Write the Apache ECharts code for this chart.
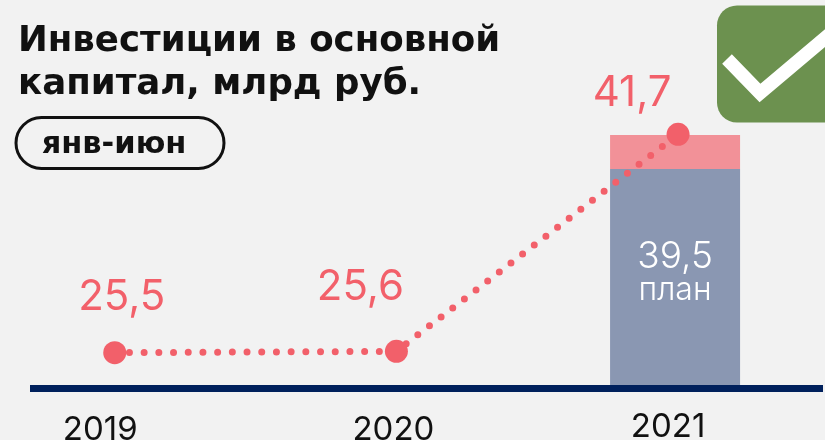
<!DOCTYPE html>
<html>
<head>
<meta charset="utf-8">
<style>
  html, body { margin: 0; padding: 0; background: #f2f2f2; }
  #chart { width: 825px; height: 440px; }
</style>
<script src="https://cdn.jsdelivr.net/npm/echarts@6/dist/echarts.min.js"></script>
</head>
<body>
<div id="chart"></div>
<script>
const years = ['2019', '2020', '2021']
const actual = [25.5, 25.6, 41.7]
const plan = [null, null, 39.5]
const overPlan = [null, null, 2.2]

const titleText = 'Инвестиции в основной\nкапитал, млрд руб.'
const periodText = 'янв-июн'
const planText = 'план'

const fontName = 'Inter'
const boldFontName = 'DejaVu Sans'
const red = '#f2606a'

// подписи расставлены в оригинале вручную
const valueLabelOffset = [[7, -1], [-36, -9], [-46, 14]]
const yearLabelPadding = [[3, 29, 0, 0], [3, 6, 0, 0], [0, 20, 0, 0]]

const chart = echarts.init(document.getElementById('chart'))

const comma = (v) => String(v).replace('.', ',')

chart.setOption({
  backgroundColor: '#f2f2f2',
  animation: false,
  title: {
    text: titleText,
    left: 13,
    top: 15,
    textStyle: { fontFamily: boldFontName, fontWeight: 700, fontSize: 35.6, lineHeight: 43, color: '#111' },
  },
  grid: [
    { left: -29.1, width: 845, top: 135, bottom: 52, outerBoundsMode: 'none' },
    { left: -26.1, width: 845, top: 134.3, bottom: 52, outerBoundsMode: 'none' },
  ],
  xAxis: [
    { type: 'category', gridIndex: 0, data: years, axisLine: { show: false }, axisTick: { show: false }, axisLabel: { show: false } },
    {
      type: 'category',
      gridIndex: 1,
      data: years.map((y, i) => ({ value: y, textStyle: { padding: yearLabelPadding[i] } })),
      axisLine: { show: false },
      axisTick: { show: false },
      axisLabel: { fontFamily: fontName, fontSize: 33, color: '#111', margin: 23 },
    },
  ],
  yAxis: [
    // шкалы в оригинале не от нуля и у столбца и линии не совпадают
    { type: 'value', gridIndex: 0, min: 25.33, max: 41.7, show: false },
    { type: 'value', gridIndex: 1, min: 22.88, max: 41.7, show: false },
  ],
  series: [
    {
      name: 'план',
      type: 'bar',
      stack: 'total',
      xAxisIndex: 0,
      yAxisIndex: 0,
      data: plan,
      barWidth: 130,
      itemStyle: { color: '#8a97b2' },
      label: {
        show: true,
        position: 'insideTop',
        distance: 71,
        formatter: (p) => `{v|${comma(p.value)}}\n{t|${planText}}`,
        rich: {
          v: { fontFamily: fontName, fontSize: 37, lineHeight: 34, color: '#fff', fontWeight: 300 },
          t: { fontFamily: fontName, fontSize: 32, lineHeight: 32, color: '#fff', fontWeight: 300 },
        },
      },
    },
    {
      name: 'сверх плана',
      type: 'bar',
      stack: 'total',
      xAxisIndex: 0,
      yAxisIndex: 0,
      data: overPlan,
      barWidth: 130,
      itemStyle: { color: '#f29198' },
    },
    {
      name: 'факт',
      type: 'line',
      xAxisIndex: 1,
      yAxisIndex: 1,
      z: 5,
      data: actual.map((v, i) => ({
        value: v,
        label: { offset: valueLabelOffset[i] },
      })),
      symbol: 'circle',
      symbolSize: 23,
      itemStyle: { color: red },
      lineStyle: { color: red, width: 7, type: [0, 14.7], cap: 'round' },
      label: {
        show: true,
        position: 'top',
        distance: 22,
        formatter: (p) => comma(p.value),
        fontFamily: fontName,
        fontSize: 42,
        fontWeight: 400,
        color: red,
      },
    },
  ],
  graphic: [
    // ось
    { type: 'rect', z: 10, shape: { x: 30, y: 385, width: 793, height: 7 }, style: { fill: '#00205c' } },
    // плашка периода
    {
      type: 'rect',
      shape: { x: 16, y: 117.5, width: 208, height: 51, r: 25.5 },
      style: { fill: 'none', stroke: '#111', lineWidth: 3 },
    },
    {
      type: 'text',
      x: 114,
      y: 145,
      style: { text: periodText, align: 'center', verticalAlign: 'middle', fontFamily: boldFontName, fontWeight: 700, fontSize: 30.5, fill: '#111' },
    },
    // галочка
    { type: 'rect', shape: { x: 717, y: 5.5, width: 130, height: 117, r: 20 }, style: { fill: '#6c914f' } },
    {
      type: 'polyline',
      shape: { points: [[727, 59], [760, 93], [831, 33]] },
      style: { fill: 'none', stroke: '#fff', lineWidth: 13.5, lineJoin: 'miter' },
    },
  ],
})
</script>
</body>
</html>
